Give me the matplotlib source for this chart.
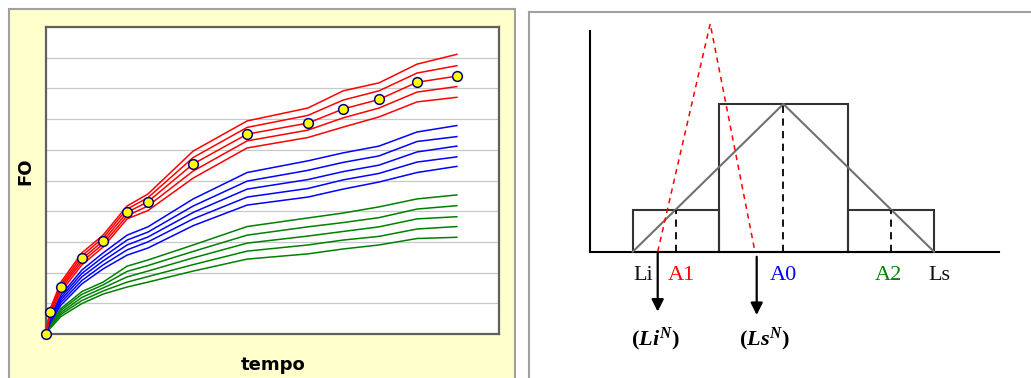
import numpy as np
import matplotlib.pyplot as plt
from matplotlib.patches import Rectangle

# Dados do grafico da esquerda (FO x tempo)
tempo = [0, 0.9, 3.3, 7.9, 12.6, 17.9, 22.5, 32.5, 44.4, 57.8, 65.6, 73.5, 81.9, 90.7]

# pontos observados (marcadores amarelos)
fo_obs = [0, 0.72, 1.54, 2.46, 3.03, 3.96, 4.30, 5.54, 6.51, 6.87, 7.33, 7.64, 8.20, 8.40]

fo_vermelho = [
    [0, 0.81, 1.69, 2.64, 3.22, 4.17, 4.56, 5.96, 6.94, 7.36, 7.92, 8.18, 8.79, 9.11],
    [0, 0.77, 1.61, 2.54, 3.13, 4.07, 4.44, 5.75, 6.73, 7.12, 7.62, 7.92, 8.50, 8.74],
    [0, 0.73, 1.54, 2.44, 3.03, 3.96, 4.31, 5.54, 6.51, 6.87, 7.33, 7.64, 8.20, 8.40],
    [0, 0.68, 1.47, 2.35, 2.93, 3.85, 4.17, 5.31, 6.29, 6.64, 7.04, 7.36, 7.88, 8.06],
    [0, 0.64, 1.38, 2.25, 2.83, 3.75, 4.02, 5.08, 6.06, 6.40, 6.74, 7.07, 7.56, 7.71],
]
fo_azul = [
    [0, 0.55, 1.27, 2.08, 2.64, 3.22, 3.49, 4.40, 5.26, 5.64, 5.90, 6.12, 6.58, 6.79],
    [0, 0.50, 1.19, 1.97, 2.51, 3.06, 3.32, 4.17, 4.98, 5.33, 5.59, 5.80, 6.27, 6.43],
    [0, 0.46, 1.11, 1.86, 2.38, 2.90, 3.16, 3.96, 4.72, 5.03, 5.29, 5.50, 5.93, 6.12],
    [0, 0.41, 1.03, 1.74, 2.25, 2.74, 3.00, 3.75, 4.46, 4.74, 5.02, 5.23, 5.60, 5.77],
    [0, 0.36, 0.94, 1.63, 2.12, 2.57, 2.80, 3.53, 4.20, 4.46, 4.72, 4.95, 5.26, 5.46],
]
fo_verde = [
    [0, 0.31, 0.83, 1.38, 1.69, 2.21, 2.41, 2.90, 3.50, 3.78, 3.94, 4.14, 4.40, 4.53],
    [0, 0.28, 0.77, 1.29, 1.60, 2.04, 2.23, 2.69, 3.22, 3.49, 3.63, 3.79, 4.07, 4.18],
    [0, 0.24, 0.70, 1.19, 1.50, 1.86, 2.05, 2.48, 2.96, 3.19, 3.34, 3.49, 3.75, 3.82],
    [0, 0.21, 0.64, 1.09, 1.40, 1.69, 1.87, 2.26, 2.70, 2.90, 3.06, 3.18, 3.42, 3.50],
    [0, 0.18, 0.57, 0.99, 1.30, 1.53, 1.69, 2.05, 2.44, 2.61, 2.77, 2.90, 3.11, 3.15],
]

# Dados do diagrama da direita (histograma + triangulos)
bordas = [1, 3, 6, 8]
alturas = [1, 3.5, 1]
tri_x = [1, 4.5, 8]
tri_y = [0, 3.5, 0]
tri_novo_x = [1.58, 2.80, 3.84]
tri_novo_y = [0, 5.4, 0]
pos_a = [2, 4.5, 7]
alt_a = [1, 3.5, 1]
rotulos = ['Li', 'A1', 'A0', 'A2', 'Ls']
rotulos_x = [1.24, 2.12, 4.5, 6.95, 8.13]
cores_rot = ['#111111', 'red', 'blue', 'green', '#111111']
setas_x = [1.58, 3.88]
setas_ini = [-0.03, -0.12]
setas_fim = [-1.42, -1.5]
rotulos_setas = [r'$(Li^{N})$', r'$(Ls^{N})$']
rotulos_setas_x = [1.52, 4.06]

plt.rcParams['mathtext.fontset'] = 'custom'
plt.rcParams['mathtext.rm'] = 'Liberation Serif:bold'
plt.rcParams['mathtext.it'] = 'Liberation Serif:italic:bold'

W, H = 1031, 378
fig = plt.figure(figsize=(W / 100, H / 100), dpi=100)

# fundo amarelo do painel da esquerda
fig.patches.append(Rectangle((9 / W, -0.02), 506 / W, 1 - 9 / H + 0.02,
                             transform=fig.transFigure, facecolor='#FFFFCC',
                             edgecolor='#A0A0A0', lw=1.5, zorder=-5))

ax = fig.add_axes([46 / W, 1 - 334 / H, 453 / W, 307 / H])
ax.set_zorder(2)
for curva in fo_verde:
    ax.plot(tempo, curva, color='#008000', lw=1.1, zorder=2)
for curva in fo_azul:
    ax.plot(tempo, curva, color='#0000FF', lw=1.1, zorder=3)
for curva in fo_vermelho:
    ax.plot(tempo, curva, color='#FF0000', lw=1.1, zorder=4)
ax.plot(tempo, fo_obs, 'o', color='#FFFF00', markeredgecolor='#000080',
        markersize=7, markeredgewidth=1.1, zorder=5, clip_on=False)
ax.set_xlim(0, 100)
ax.set_ylim(0, 10)
ax.set_yticks(range(0, 11))
ax.set_xticks([])
ax.tick_params(length=0, labelleft=False, labelbottom=False)
ax.grid(axis='y', color='#C8C8C8', lw=0.9)
ax.set_axisbelow(True)
for s in ax.spines.values():
    s.set_color('#606060')
    s.set_linewidth(1.6)

fig.text(25 / W, 1 - 171 / H, 'FO', rotation=90, ha='center', va='center',
         fontsize=13, fontweight='bold', family='DejaVu Sans')
fig.text(273 / W, 1 - 370 / H, 'tempo', ha='center', va='baseline',
         fontsize=13, fontweight='bold', family='DejaVu Sans')

# painel da direita
px_x, px_y, x0_px, y0_px = 43.04, 42.2, 589.7, 251.7
ax2 = fig.add_axes([529.3 / W, 0, 1 - 529.3 / W, 1 - 11.7 / H])
ax2.set_xlim(-(x0_px - 529.3) / px_x, (W - x0_px) / px_x)
ax2.set_ylim(-(H - y0_px) / px_y, (y0_px - 11.7) / px_y)
ax2.set_xticks([])
ax2.set_yticks([])
ax2.spines['right'].set_visible(False)
ax2.spines['bottom'].set_visible(False)
for s in ['left', 'top']:
    ax2.spines[s].set_color('#A0A0A0')
    ax2.spines[s].set_linewidth(1.5)

# eixos do diagrama
ax2.plot([0, 0], [0, 5.23], color='black', lw=1.5)
ax2.plot([0, 9.5], [0, 0], color='black', lw=1.5)

# barras
for i in range(len(alturas)):
    ax2.bar(bordas[i], alturas[i], width=bordas[i + 1] - bordas[i], align='edge',
            fill=False, edgecolor='#333333', lw=1.5)

ax2.plot(tri_x, tri_y, color='#707070', lw=1.5)
for x, h in zip(pos_a, alt_a):
    ax2.plot([x, x], [0, h], color='black', lw=1.3, ls=(0, (4, 3)))
ax2.plot(tri_novo_x, tri_novo_y, color='red', lw=1.1, ls=(0, (3.5, 3)))

for x, r, c in zip(rotulos_x, rotulos, cores_rot):
    ax2.text(x, -0.67, r, ha='center', va='baseline', color=c, fontsize=16,
             family='Liberation Serif')

for x, y1, y2 in zip(setas_x, setas_ini, setas_fim):
    ax2.annotate('', xy=(x, y2), xytext=(x, y1),
                 arrowprops=dict(arrowstyle='-|>', color='black', lw=1.6,
                                 mutation_scale=18, shrinkA=0, shrinkB=0))
for x, r in zip(rotulos_setas_x, rotulos_setas):
    ax2.text(x, -2.21, r, ha='center', va='baseline', fontsize=16)

fig.savefig('out.png', dpi=100)
